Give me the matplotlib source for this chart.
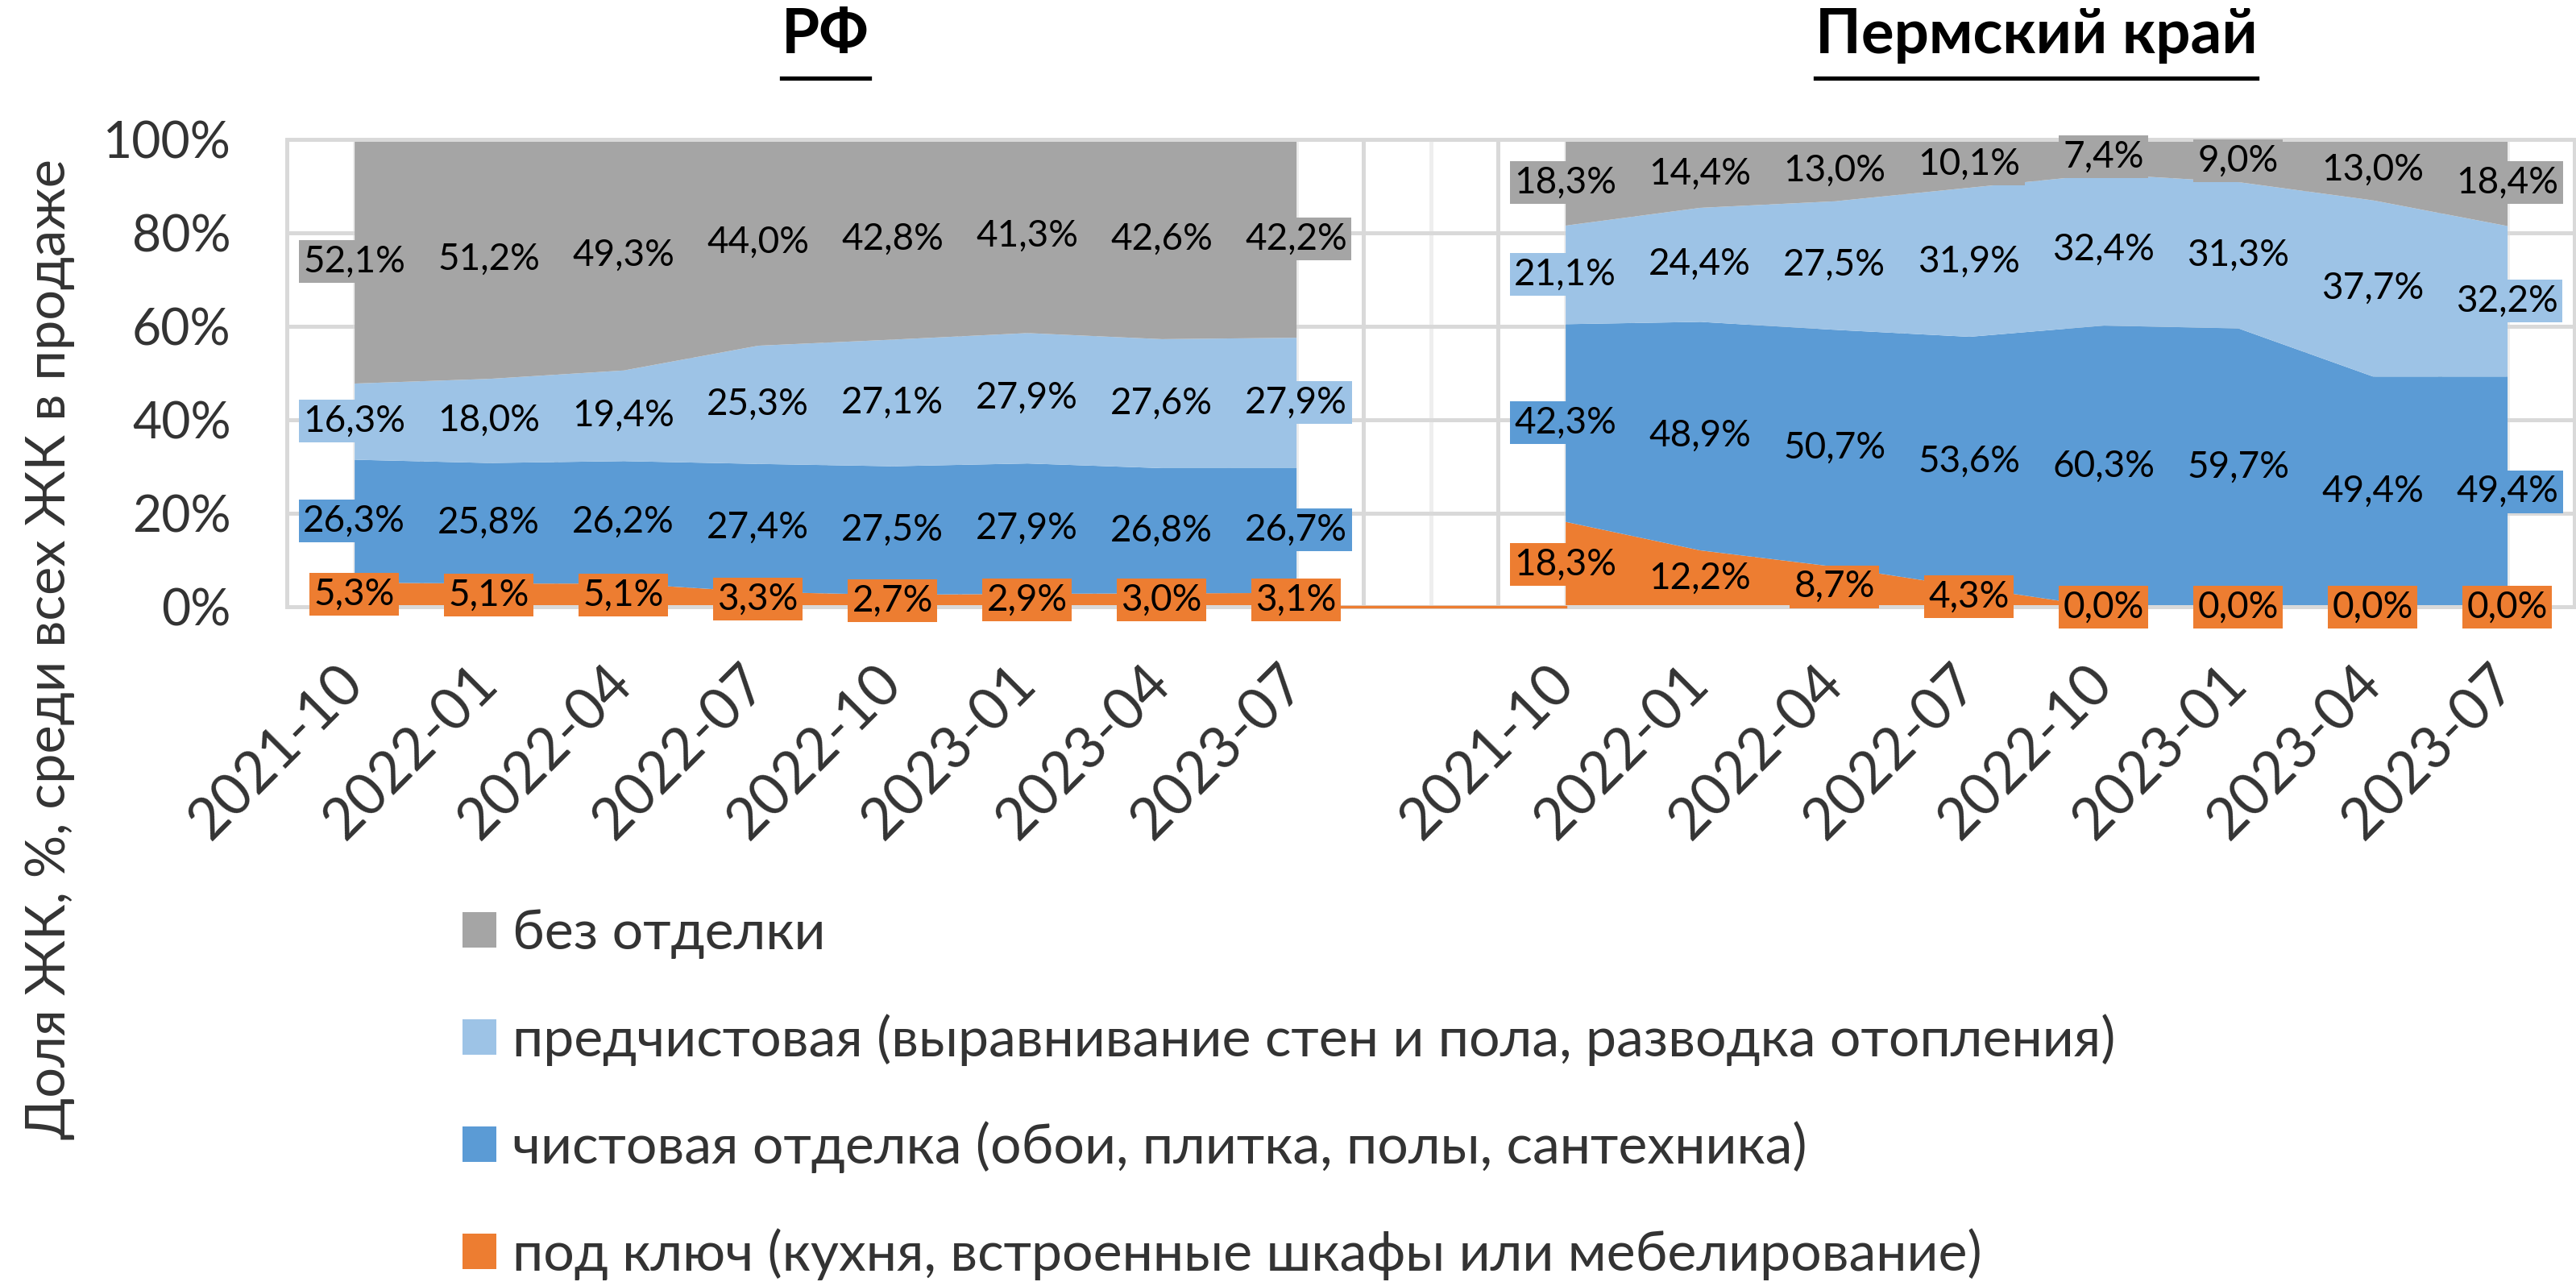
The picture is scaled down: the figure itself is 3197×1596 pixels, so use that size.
import matplotlib
matplotlib.use("Agg")
import matplotlib.pyplot as plt
import matplotlib.transforms as mtransforms
from matplotlib.patches import Patch
from matplotlib.lines import Line2D
import numpy as np

plt.rcParams['font.family'] = ['Lato', 'DejaVu Sans']

# ---- data -------------------------------------------------------------
periods = ["2021-10", "2022-01", "2022-04", "2022-07",
           "2022-10", "2023-01", "2023-04", "2023-07"]
region_titles = ["РФ", "Пермский край"]

series_names = [
    "под ключ (кухня, встроенные шкафы или мебелирование)",
    "чистовая отделка (обои, плитка, полы, сантехника)",
    "предчистовая (выравнивание стен и пола, разводка отопления)",
    "без отделки",
]
colors = ["#ED7D31", "#5B9BD5", "#9DC3E6", "#A5A5A5"]

# Russia, share of projects by finish type, %
rf_turnkey = [5.3, 5.1, 5.1, 3.3, 2.7, 2.9, 3.0, 3.1]
rf_finish = [26.3, 25.8, 26.2, 27.4, 27.5, 27.9, 26.8, 26.7]
rf_prefinish = [16.3, 18.0, 19.4, 25.3, 27.1, 27.9, 27.6, 27.9]
rf_none = [52.1, 51.2, 49.3, 44.0, 42.8, 41.3, 42.6, 42.2]

# Perm Krai, share of projects by finish type, %
perm_turnkey = [18.3, 12.2, 8.7, 4.3, 0.0, 0.0, 0.0, 0.0]
perm_finish = [42.3, 48.9, 50.7, 53.6, 60.3, 59.7, 49.4, 49.4]
perm_prefinish = [21.1, 24.4, 27.5, 31.9, 32.4, 31.3, 37.7, 32.2]
perm_none = [18.3, 14.4, 13.0, 10.1, 7.4, 9.0, 13.0, 18.4]

y_ticks = [0, 20, 40, 60, 80, 100]
y_label = "Доля ЖК, %, среди всех ЖК в продаже"

# ---- figure -----------------------------------------------------------
fig = plt.figure(figsize=(15.985, 7.98), dpi=200)
ax = fig.add_axes([0.1114, 0.528, 0.888, 0.3634])

n = len(periods)
x_rf = np.arange(n)
x_perm = np.arange(n) + n + 1          # one empty slot between the groups

grid_c = "#d9d9d9"
ax.set_xlim(-0.5, 2 * n + 0.5)
ax.set_ylim(0, 100)

# vertical grid: category boundaries and category centres
for b in np.arange(-0.5, 2 * n + 1, 1.0):
    ax.axvline(b, color=grid_c, lw=1.8, zorder=0)
for c in range(2 * n + 1):
    ax.axvline(c, color="#eeeeee", lw=1.8, zorder=0)
for yv in y_ticks:
    ax.axhline(yv, color=grid_c, lw=1.8, zorder=0.5)

for sp in ax.spines.values():
    sp.set_color(grid_c)
    sp.set_linewidth(1.8)


def draw_group(xs, layers):
    base = np.zeros(len(xs))
    for vals, col in zip(layers, colors):
        vals = np.asarray(vals, dtype=float)
        top = base + vals
        ax.fill_between(xs, base, top, color=col, lw=0, zorder=2)
        for xi, b0, v in zip(xs, base, vals):
            ax.text(xi, b0 + v / 2, f"{v:.1f}%".replace(".", ","),
                    ha="center", va="center", fontsize=16.5, color="black",
                    zorder=5, clip_on=False,
                    bbox=dict(boxstyle="square,pad=0.12", fc=col, ec="none"))
        base = top


draw_group(x_rf, [rf_turnkey, rf_finish, rf_prefinish, rf_none])
draw_group(x_perm, [perm_turnkey, perm_finish, perm_prefinish, perm_none])

# turnkey series runs along zero through the empty slot
ax.plot([x_rf[-1], x_perm[0]], [0, 0], color=colors[0], lw=1.2, zorder=3,
        clip_on=False)

# ---- axes text --------------------------------------------------------
ax.set_yticks(y_ticks)
ax.set_yticklabels([f"{v}%" for v in y_ticks])
ax.tick_params(axis="y", length=0, pad=25, labelsize=22.5, labelcolor="#333333")

ax.set_xticks(list(x_rf) + list(x_perm))
ax.set_xticklabels(periods + periods, rotation=45, ha="right",
                   va="center", rotation_mode="anchor")
ax.tick_params(axis="x", length=0, pad=30, labelsize=25.5, labelcolor="#333333")

fig.text(0.0195, 1 - 805 / 1596, y_label, rotation=90, ha="center",
         va="center", fontsize=24, color="#333333")

# group titles, bold and underlined
blend = mtransforms.blended_transform_factory(ax.transData, fig.transFigure)
titles = []
for cx, t in zip([x_rf.mean(), x_perm.mean()], region_titles):
    titles.append(fig.text(cx, 1 - 66 / 1596, t, transform=blend, ha="center",
                           va="baseline", fontsize=27.5, fontweight="bold",
                           color="black"))

# legend
handles = [Patch(facecolor=c, edgecolor="none") for c in colors[::-1]]
fig.legend(handles, series_names[::-1], loc="upper left",
           bbox_to_anchor=(0.1795, 0.293), frameon=False, fontsize=24.5,
           handlelength=0.62, handleheight=0.62, handletextpad=0.3,
           labelspacing=1.0, borderpad=0, borderaxespad=0,
           labelcolor="#333333")

fig.canvas.draw()
renderer = fig.canvas.get_renderer()
for t in titles:
    bb = t.get_window_extent(renderer)
    y_line = bb.y0 - 0.011 * fig.bbox.height
    fig.add_artist(Line2D([bb.x0 / fig.bbox.width, bb.x1 / fig.bbox.width],
                          [y_line / fig.bbox.height] * 2,
                          transform=fig.transFigure, color="black", lw=1.9))

fig.savefig("out.png", dpi=200)
